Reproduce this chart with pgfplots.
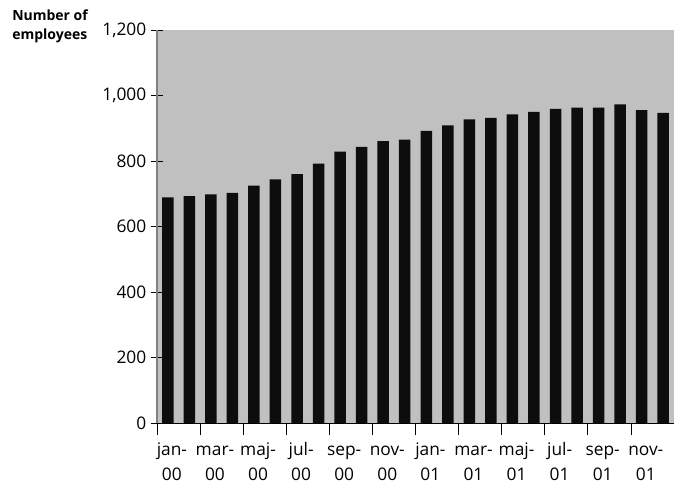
\documentclass[border=0pt]{standalone}
\usepackage{fontspec}
\setmainfont{Open Sans}
\usepackage{pgfplots}
\pgfplotsset{compat=1.18}
\definecolor{plotbg}{RGB}{192,192,192}
\definecolor{barcol}{RGB}{13,13,13}
\newcommand\xl[2]{\strut #1\\\strut #2}
\begin{document}
\begin{tikzpicture}
\useasboundingbox (-117.75pt,-45pt) rectangle (387.75pt,317.25pt);
\begin{axis}[
  scale only axis,
  width=387.75pt, height=294.75pt,
  at={(0pt,0pt)}, anchor=south west,
  xmin=-0.5, xmax=23.5,
  ymin=0, ymax=1200,
  ytick={0,200,...,1200},
  xtick={-0.5,1.5,...,23.5},
  x tick label as interval,
  xticklabels={\xl{jan-}{00},\xl{mar-}{00},\xl{maj-}{00},\xl{jul-}{00},\xl{sep-}{00},\xl{nov-}{00},\xl{jan-}{01},\xl{mar-}{01},\xl{maj-}{01},\xl{jul-}{01},\xl{sep-}{01},\xl{nov-}{01}},
  xticklabel style={align=center, xshift=-5pt, yshift=1.5pt, font=\fontsize{13}{18.75}\selectfont},
  yticklabel style={font=\fontsize{13}{15}\selectfont},
  /pgf/number format/.cd, 1000 sep={,}, assume math mode=true,
  /pgfplots/.cd,
  axis lines=left,
  axis line style={-},
  x axis line style={draw=black},
  y axis line style={draw={rgb,255:red,128;green,128;blue,128}, line width=1pt},
  tick align=center,
  major tick length=9pt,
  tick style={draw=black, line width=0.6pt},
  axis background/.style={fill=plotbg},
  ybar, bar width=8.6pt,
]
\addplot[fill=barcol, draw=none] coordinates {
(0,689) (1,693) (2,698) (3,703) (4,725) (5,744) (6,760) (7,792)
(8,829) (9,843) (10,861) (11,865) (12,892) (13,909) (14,927) (15,932)
(16,942) (17,950) (18,959) (19,963) (20,963) (21,973) (22,955) (23,947)
};
\end{axis}
\node[anchor=north west, align=left, inner sep=0pt, font=\fontsize{10.5}{14}\selectfont\bfseries] at (-108.75pt,310pt) {Number of\\employees};
\end{tikzpicture}
\end{document}
